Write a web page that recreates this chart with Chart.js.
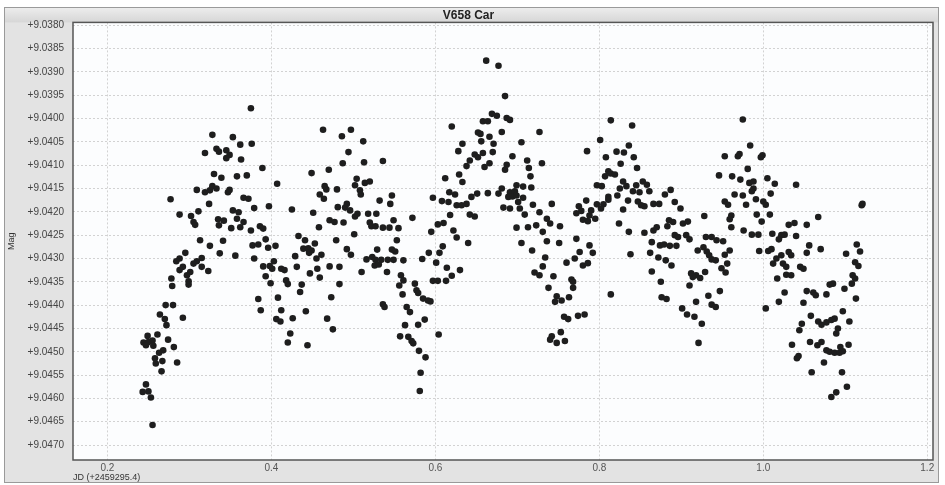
<!DOCTYPE html>
<html>
<head>
<meta charset="utf-8">
<title>V658 Car</title>
<script src="https://cdn.jsdelivr.net/npm/chart.js@4.4.1/dist/chart.umd.min.js"></script>
<style>
    html, body { margin: 0; padding: 0; background: #ffffff; }
    #wrap { position: absolute; left: 4px; top: 7px; width: 935px; height: 476px; }
    #lightcurve { display: block; }
</style>
</head>
<body>
<div id="wrap"><canvas id="lightcurve" width="935" height="476"></canvas></div>
<script>
const runA = [
    [0.375,9.03978],[0.328,9.04035],[0.353,9.04040],[0.362,9.04056],[0.376,9.04054],[0.333,9.04065],[0.319,9.04074],[0.336,9.04071],[0.345,9.04068],[0.349,9.04078],
    [0.345,9.04085],[0.363,9.04088],[0.330,9.04119],[0.339,9.04127],[0.358,9.04124],[0.370,9.04122],[0.309,9.04153],[0.319,9.04158],[0.325,9.04154],[0.328,9.04145],
    [0.333,9.04150],[0.347,9.04158],[0.349,9.04153],[0.366,9.04170],[0.372,9.04172],[0.277,9.04173],[0.324,9.04183],[0.379,9.04192],[0.311,9.04199],[0.288,9.04206],
    [0.302,9.04209],[0.353,9.04197],[0.360,9.04201],[0.305,9.04222],[0.307,9.04228],[0.335,9.04216],[0.342,9.04219],[0.336,9.04229],[0.358,9.04215],[0.366,9.04222],
    [0.351,9.04235],[0.362,9.04233],[0.375,9.04240],[0.313,9.04261],[0.325,9.04273],[0.341,9.04262],[0.377,9.04272],[0.337,9.04289],[0.356,9.04294],[0.295,9.04288],
    [0.288,9.04300],[0.284,9.04306],[0.315,9.04299],[0.309,9.04306],[0.305,9.04311],[0.292,9.04318],[0.315,9.04318],[0.323,9.04327],[0.288,9.04325],[0.301,9.04329],
    [0.297,9.04336],[0.299,9.04349],[0.299,9.04356],[0.278,9.04343],[0.279,9.04359],[0.379,9.04300],[0.271,9.04400],[0.280,9.04400],[0.264,9.04420],[0.270,9.04430],
    [0.272,9.04443],[0.292,9.04427],[0.249,9.04466],[0.261,9.04463],[0.244,9.04480],[0.250,9.04479],[0.255,9.04476],[0.247,9.04486],[0.256,9.04487],[0.274,9.04474],
    [0.268,9.04497],[0.263,9.04502],[0.281,9.04490],[0.258,9.04514],[0.267,9.04520],[0.259,9.04525],[0.285,9.04523],[0.266,9.04542],[0.247,9.04570],[0.243,9.04586],
    [0.250,9.04585],[0.253,9.04598],[0.255,9.04657]
];
const runB = [
    [0.389,9.04106],[0.463,9.04024],[0.497,9.04024],[0.486,9.04038],[0.512,9.04049],[0.494,9.04072],[0.487,9.04096],[0.513,9.04094],[0.470,9.04110],[0.449,9.04117],
    [0.407,9.04140],[0.465,9.04145],[0.467,9.04152],[0.480,9.04152],[0.459,9.04163],[0.464,9.04172],[0.504,9.04129],[0.502,9.04143],[0.514,9.04138],[0.520,9.04135],
    [0.508,9.04154],[0.509,9.04163],[0.397,9.04188],[0.425,9.04195],[0.451,9.04202],[0.481,9.04190],[0.492,9.04183],[0.490,9.04191],[0.496,9.04197],[0.505,9.04204],
    [0.502,9.04210],[0.518,9.04204],[0.458,9.04233],[0.471,9.04218],[0.477,9.04222],[0.488,9.04223],[0.520,9.04223],[0.522,9.04231],[0.501,9.04248],[0.479,9.04261],
    [0.433,9.04252],[0.441,9.04261],[0.453,9.04268],[0.439,9.04279],[0.445,9.04278],[0.449,9.04283],[0.446,9.04288],[0.461,9.04292],[0.429,9.04295],[0.455,9.04300],
    [0.492,9.04280],[0.497,9.04292],[0.516,9.04302],[0.523,9.04297],[0.386,9.04231],[0.390,9.04236],[0.393,9.04259],[0.384,9.04270],[0.396,9.04277],[0.405,9.04273],
    [0.403,9.04306],[0.390,9.04317],[0.398,9.04316],[0.401,9.04322],[0.412,9.04322],[0.416,9.04325],[0.431,9.04318],[0.471,9.04317],[0.483,9.04318],[0.510,9.04329],
    [0.447,9.04332],[0.456,9.04322],[0.459,9.04341],[0.393,9.04338],[0.399,9.04353],[0.418,9.04347],[0.420,9.04355],[0.435,9.04372],[0.437,9.04356],[0.483,9.04355],
    [0.408,9.04384],[0.384,9.04387],[0.473,9.04383],[0.387,9.04411],[0.412,9.04411],[0.442,9.04413],[0.406,9.04430],[0.411,9.04435],[0.426,9.04428],[0.468,9.04429],
    [0.475,9.04452],[0.423,9.04461],[0.420,9.04480],[0.444,9.04486]
];
const runC = [
    [0.662,9.03876],[0.620,9.04017],[0.669,9.03990],[0.658,9.04006],[0.664,9.04006],[0.652,9.04030],[0.655,9.04033],[0.666,9.04039],[0.656,9.04049],[0.633,9.04054],
    [0.628,9.04070],[0.648,9.04077],[0.652,9.04083],[0.658,9.04074],[0.670,9.04072],[0.642,9.04090],[0.638,9.04102],[0.666,9.04096],[0.660,9.04104],[0.536,9.04091],
    [0.629,9.04120],[0.633,9.04136],[0.612,9.04128],[0.547,9.04165],[0.532,9.04176],[0.545,9.04183],[0.617,9.04158],[0.624,9.04163],[0.597,9.04170],[0.608,9.04177],
    [0.616,9.04179],[0.626,9.04186],[0.632,9.04186],[0.638,9.04183],[0.644,9.04168],[0.651,9.04161],[0.664,9.04160],[0.528,9.04204],[0.618,9.04207],[0.642,9.04206],
    [0.648,9.04210],[0.572,9.04213],[0.549,9.04218],[0.527,9.04231],[0.536,9.04234],[0.544,9.04234],[0.555,9.04235],[0.603,9.04227],[0.610,9.04224],[0.595,9.04243],
    [0.622,9.04240],[0.626,9.04255],[0.553,9.04261],[0.609,9.04274],[0.640,9.04267],[0.529,9.04281],[0.547,9.04281],[0.551,9.04285],[0.592,9.04288],[0.605,9.04288],
    [0.527,9.04303],[0.534,9.04303],[0.542,9.04303],[0.549,9.04303],[0.561,9.04304],[0.526,9.04315],[0.531,9.04313],[0.584,9.04301],[0.601,9.04309],[0.614,9.04320],
    [0.630,9.04325],[0.541,9.04329],[0.620,9.04337],[0.558,9.04336],[0.561,9.04347],[0.597,9.04348],[0.603,9.04348],[0.613,9.04348],[0.575,9.04354],[0.556,9.04358],
    [0.577,9.04368],[0.579,9.04374],[0.560,9.04377],[0.585,9.04386],[0.591,9.04390],[0.594,9.04392],[0.536,9.04398],[0.538,9.04404],[0.565,9.04404],[0.569,9.04415],
    [0.587,9.04431],[0.579,9.04442],[0.563,9.04443],[0.604,9.04463],[0.557,9.04467],[0.567,9.04468],[0.571,9.04477],[0.573,9.04482],[0.580,9.04498],[0.588,9.04512],
    [0.582,9.04545],[0.581,9.04584]
];
const runD = [
    [0.677,9.03887],[0.685,9.03952],[0.675,9.03994],[0.687,9.03999],[0.691,9.04003],[0.727,9.04029],[0.681,9.04029],[0.705,9.04051],[0.671,9.04054],[0.694,9.04081],
    [0.712,9.04090],[0.730,9.04096],[0.687,9.04099],[0.714,9.04106],[0.685,9.04110],[0.716,9.04124],[0.699,9.04143],[0.707,9.04146],[0.717,9.04148],[0.681,9.04150],
    [0.677,9.04161],[0.691,9.04158],[0.697,9.04156],[0.689,9.04168],[0.694,9.04167],[0.699,9.04165],[0.707,9.04170],[0.701,9.04179],[0.683,9.04191],[0.691,9.04193],
    [0.703,9.04193],[0.719,9.04185],[0.742,9.04183],[0.709,9.04206],[0.727,9.04201],[0.736,9.04215],[0.740,9.04225],[0.752,9.04231],[0.699,9.04234],[0.713,9.04233],
    [0.723,9.04229],[0.731,9.04243],[0.772,9.04258],[0.705,9.04267],[0.736,9.04263],[0.751,9.04267],[0.718,9.04283],[0.788,9.04272],[0.792,9.04288],[0.776,9.04286],
    [0.734,9.04298],[0.770,9.04300],[0.760,9.04309],[0.780,9.04315],[0.786,9.04310],[0.731,9.04317],[0.721,9.04330],[0.727,9.04336],[0.744,9.04338],[0.766,9.04345],
    [0.768,9.04350],[0.738,9.04363],[0.768,9.04363],[0.748,9.04381],[0.746,9.04393],[0.754,9.04390],[0.763,9.04383],[0.757,9.04425],[0.762,9.04430],[0.774,9.04423],
    [0.782,9.04420],[0.742,9.04467],[0.753,9.04458],[0.740,9.04474],[0.748,9.04481],[0.758,9.04477],[0.814,9.04377],[0.814,9.04004],[0.801,9.04046],[0.785,9.04070],
    [0.808,9.04083],[0.811,9.04113],[0.807,9.04124],[0.814,9.04118],[0.797,9.04143],[0.803,9.04145],[0.811,9.04168],[0.811,9.04174],[0.784,9.04176],[0.775,9.04188],
    [0.772,9.04203],[0.778,9.04198],[0.797,9.04184],[0.805,9.04184],[0.802,9.04193],[0.790,9.04197],[0.788,9.04208],[0.780,9.04217],[0.786,9.04220],[0.795,9.04215]
];
const runE = [
    [0.840,9.04015],[0.836,9.04058],[0.830,9.04073],[0.821,9.04071],[0.842,9.04083],[0.826,9.04097],[0.846,9.04106],[0.819,9.04120],[0.829,9.04135],[0.833,9.04145],
    [0.825,9.04150],[0.822,9.04165],[0.845,9.04143],[0.853,9.04135],[0.858,9.04142],[0.861,9.04156],[0.849,9.04158],[0.841,9.04156],[0.835,9.04176],[0.847,9.04178],
    [0.851,9.04186],[0.855,9.04188],[0.829,9.04195],[0.866,9.04183],[0.873,9.04183],[0.880,9.04163],[0.887,9.04153],[0.892,9.04179],[0.899,9.04193],[0.824,9.04225],
    [0.836,9.04243],[0.855,9.04245],[0.866,9.04240],[0.870,9.04233],[0.864,9.04265],[0.885,9.04218],[0.890,9.04222],[0.883,9.04231],[0.902,9.04225],[0.908,9.04221],
    [0.928,9.04209],[0.892,9.04250],[0.896,9.04254],[0.906,9.04250],[0.910,9.04259],[0.874,9.04272],[0.879,9.04270],[0.886,9.04273],[0.894,9.04273],[0.862,9.04288],
    [0.838,9.04291],[0.872,9.04298],[0.881,9.04304],[0.888,9.04315],[0.930,9.04254],[0.937,9.04254],[0.943,9.04261],[0.951,9.04263],[0.927,9.04276],[0.920,9.04283],
    [0.931,9.04285],[0.934,9.04293],[0.937,9.04302],[0.942,9.04304],[0.953,9.04292],[0.959,9.04283],[0.956,9.04311],[0.949,9.04321],[0.954,9.04330],[0.864,9.04328],
    [0.875,9.04350],[0.912,9.04332],[0.918,9.04336],[0.923,9.04342],[0.914,9.04340],[0.929,9.04329],[0.910,9.04358],[0.876,9.04383],[0.882,9.04387],[0.901,9.04407],
    [0.918,9.04393],[0.907,9.04420],[0.916,9.04425],[0.933,9.04380],[0.947,9.04370],[0.937,9.04399],[0.942,9.04404],[0.925,9.04440],[0.921,9.04481],[0.953,9.04081],
    [0.946,9.04122],[0.962,9.04124],[0.953,9.04178],[0.957,9.04185],[0.961,9.04208],[0.959,9.04216],[0.961,9.04233]
];
const runF = [
    [0.975,9.04002],[0.984,9.04058],[0.971,9.04076],[0.969,9.04081],[0.999,9.04079],[0.997,9.04083],[0.981,9.04108],[0.972,9.04131],[0.983,9.04138],[0.988,9.04135],
    [0.988,9.04150],[0.986,9.04156],[1.005,9.04128],[1.014,9.04140],[1.040,9.04142],[1.009,9.04161],[0.965,9.04163],[0.975,9.04165],[0.991,9.04173],[1.000,9.04178],
    [1.003,9.04185],[0.979,9.04185],[0.992,9.04206],[1.008,9.04206],[0.998,9.04221],[0.976,9.04240],[0.986,9.04249],[0.994,9.04249],[1.011,9.04247],[1.022,9.04250],
    [1.019,9.04259],[1.026,9.04249],[1.031,9.04228],[1.038,9.04224],[1.053,9.04228],[1.040,9.04252],[1.067,9.04211],[1.120,9.04186],[1.121,9.04183],[0.995,9.04284],
    [1.006,9.04284],[1.010,9.04280],[1.016,9.04300],[1.022,9.04293],[1.012,9.04311],[1.031,9.04286],[1.034,9.04293],[1.056,9.04272],[1.053,9.04288],[1.070,9.04280],
    [1.024,9.04311],[1.028,9.04318],[1.045,9.04318],[1.049,9.04322],[1.028,9.04335],[1.034,9.04336],[1.017,9.04343],[1.101,9.04290],[1.114,9.04270],[1.118,9.04285],
    [1.112,9.04308],[1.116,9.04316],[1.109,9.04336],[1.112,9.04343],[1.108,9.04354],[1.081,9.04356],[1.085,9.04354],[1.053,9.04370],[1.061,9.04373],[1.064,9.04379],
    [1.077,9.04377],[1.099,9.04365],[1.026,9.04373],[1.019,9.04393],[1.049,9.04395],[1.113,9.04386],[1.003,9.04407],[1.097,9.04413],[1.058,9.04423],[1.047,9.04440],
    [1.044,9.04454],[1.067,9.04435],[1.071,9.04442],[1.077,9.04437],[1.083,9.04432],[1.087,9.04429],[1.091,9.04450],[1.089,9.04461],[1.105,9.04435],[1.035,9.04485],
    [1.043,9.04509],[1.041,9.04514],[1.057,9.04479],[1.066,9.04486],[1.071,9.04479],[1.077,9.04497],[1.081,9.04500],[1.087,9.04502],[1.093,9.04502],[1.097,9.04499],
    [1.094,9.04490],[1.104,9.04485],[1.074,9.04523],[1.059,9.04544],[1.096,9.04544],[1.102,9.04575],[1.089,9.04587],[1.083,9.04597]
];

// Tick labels shown on the axes
const jdTicks = [0.2, 0.4, 0.6, 0.8, 1.0, 1.2];
const magTicks = [9.0380, 9.0385, 9.0390, 9.0395, 9.0400, 9.0405, 9.0410, 9.0415, 9.0420,
                  9.0425, 9.0430, 9.0435, 9.0440, 9.0445, 9.0450, 9.0455, 9.0460, 9.0465, 9.0470];

const points = [...runA, ...runB, ...runC, ...runD, ...runE, ...runF].map(([x, y]) => ({ x, y }));

// Gray frame behind everything, white plot area, dark border on top
const framePlugin = {
    id: 'frame',
    beforeDraw(chart) {
        const { ctx, chartArea: a, width, height } = chart;
        ctx.save();
        ctx.fillStyle = '#e3e3e3';
        ctx.fillRect(0, 0, width, height);
        const g = ctx.createLinearGradient(0, 0, 0, a.top);
        g.addColorStop(0, '#eeeeee');
        g.addColorStop(1, '#d6d6d6');
        ctx.fillStyle = g;
        ctx.fillRect(0, 0, width, a.top);
        ctx.strokeStyle = '#9a9a9a';
        ctx.lineWidth = 1;
        ctx.strokeRect(0.5, 0.5, width - 1, height - 1);
        ctx.fillStyle = '#fcfdfe';
        ctx.fillRect(a.left, a.top, a.right - a.left, a.bottom - a.top);
        ctx.restore();
    },
    afterDraw(chart) {
        const { ctx, chartArea: a } = chart;
        ctx.save();
        ctx.strokeStyle = '#555555';
        ctx.lineWidth = 1.5;
        ctx.strokeRect(a.left, a.top, a.right - a.left, a.bottom - a.top);
        ctx.restore();
    }
};

new Chart(document.getElementById('lightcurve'), {
    type: 'scatter',
    data: {
        datasets: [{
            label: 'V658 Car',
            data: points,
            backgroundColor: '#1e1e1e',
            borderColor: '#1e1e1e',
            borderWidth: 0,
            pointRadius: 3.3,
            pointHoverRadius: 3.3
        }]
    },
    options: {
        responsive: false,
        animation: false,
        devicePixelRatio: 1,
        layout: { padding: { left: 0, right: 6, top: 0, bottom: 0 } },
        plugins: {
            legend: { display: false },
            tooltip: { enabled: false },
            title: {
                display: true,
                text: 'V658 Car',
                color: '#222222',
                font: { family: 'Liberation Sans, Arial, sans-serif', size: 12, weight: 'bold' },
                padding: { top: 1, bottom: 0 }
            }
        },
        scales: {
            x: {
                type: 'linear',
                min: 0.158,
                max: 1.207,
                afterBuildTicks: (scale) => { scale.ticks = jdTicks.map(v => ({ value: v })); },
                afterFit: (scale) => { scale.height = 23; },
                ticks: {
                    callback: (v) => Number(v).toFixed(1),
                    color: '#555555',
                    padding: 2,
                    font: { family: 'Liberation Sans, Arial, sans-serif', size: 10 }
                },
                grid: { color: '#d2d2d2', drawTicks: false },
                border: { display: false, dash: [2, 2] },
                title: {
                    display: true,
                    text: 'JD (+2459295.4)',
                    align: 'start',
                    color: '#333333',
                    padding: { top: 0, bottom: 0 },
                    font: { family: 'Liberation Sans, Arial, sans-serif', size: 9 }
                }
            },
            y: {
                type: 'linear',
                reverse: true,
                min: 9.03794,
                max: 9.04732,
                afterBuildTicks: (scale) => { scale.ticks = magTicks.map(v => ({ value: v })); },
                afterFit: (scale) => { scale.width = 69; },
                ticks: {
                    callback: (v) => '+' + Number(v).toFixed(4),
                    color: '#444444',
                    padding: 9,
                    font: { family: 'Liberation Sans, Arial, sans-serif', size: 10 }
                },
                grid: { color: '#d2d2d2', drawTicks: false },
                border: { display: false, dash: [2, 2] },
                title: {
                    display: true,
                    text: 'Mag',
                    color: '#333333',
                    padding: { top: 2, bottom: 0 },
                    font: { family: 'Liberation Sans, Arial, sans-serif', size: 9 }
                }
            }
        }
    },
    plugins: [framePlugin]
});
</script>
</body>
</html>
